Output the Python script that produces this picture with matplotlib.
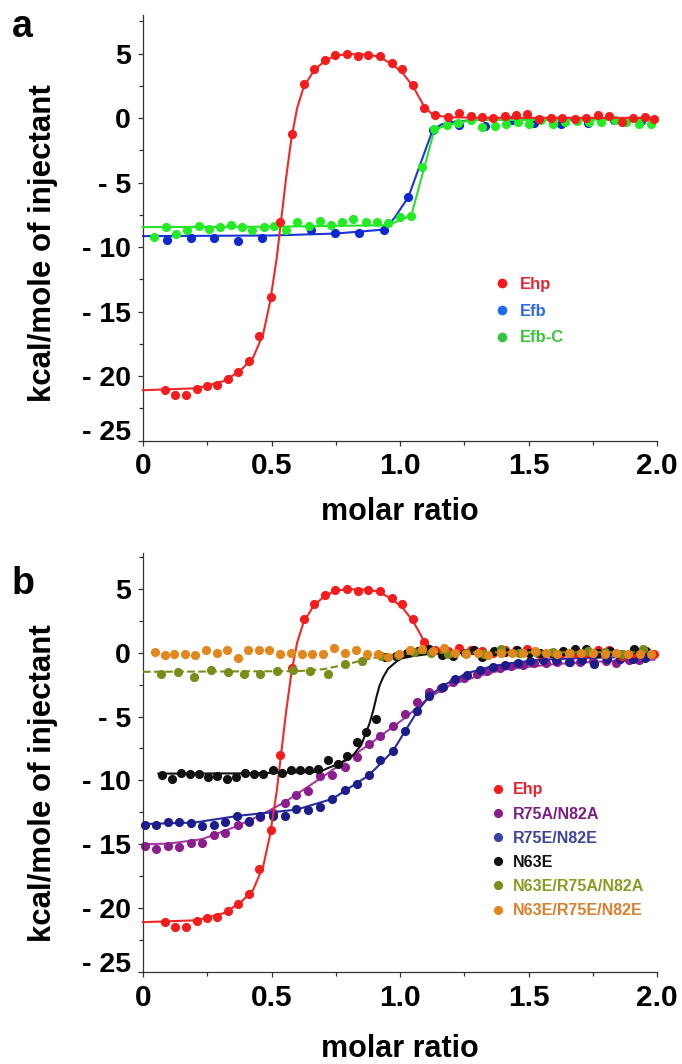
import matplotlib
matplotlib.use('Agg')
import matplotlib.pyplot as plt
from matplotlib.lines import Line2D

plt.rcParams['font.family'] = ['Liberation Sans', 'DejaVu Sans']
plt.rcParams['font.weight'] = 'bold'

# ---------------- data ----------------
EHP_X = [0.086, 0.125, 0.167, 0.209, 0.248, 0.289, 0.329, 0.371, 0.412, 0.453, 0.498, 0.534,
         0.578, 0.625, 0.665, 0.708, 0.749, 0.792, 0.835, 0.877, 0.922, 0.967, 1.009, 1.051,
         1.094, 1.138, 1.185, 1.230, 1.275, 1.318, 1.362, 1.409, 1.453, 1.496, 1.542, 1.587,
         1.631, 1.679, 1.725, 1.770, 1.815, 1.862, 1.908, 1.954, 1.990]
EHP_Y = [-21.05, -21.45, -21.45, -21.0, -20.74, -20.71, -20.2, -19.66, -18.87, -16.9, -13.87, -8.05,
         -1.2, 2.67, 3.84, 4.53, 4.87, 4.95, 4.82, 4.9, 4.82, 4.28, 3.84, 2.6,
         0.81, 0.22, 0.09, 0.37, 0.19, 0.09, 0.01, 0.17, 0.24, 0.3, -0.09, 0.01,
         -0.01, -0.04, -0.01, 0.24, 0.17, -0.27, 0.01, 0.09, -0.1]
EHP_FIT_X = [0, 0.209, 0.313, 0.378, 0.429, 0.468, 0.494, 0.520, 0.537, 0.557, 0.578, 0.600,
             0.625, 0.665, 0.708, 0.750, 0.800, 0.877, 0.920, 0.967, 1.009, 1.051, 1.072, 1.094,
             1.120, 1.150, 1.200, 1.300, 1.990]
EHP_FIT_Y = [-21.1, -20.95, -20.4, -19.6, -18.55, -16.7, -14.3, -10.9, -8.0, -4.6, -1.5, 0.8,
             2.4, 3.7, 4.45, 4.85, 4.97, 4.93, 4.75, 4.2, 3.55, 2.45, 1.7, 0.9,
             0.4, 0.18, 0.07, 0.03, 0.02]

EFB_X = [0.095, 0.187, 0.276, 0.370, 0.464, 0.652, 0.748, 0.842, 0.937, 1.033, 1.127, 1.228,
         1.332, 1.435, 1.523, 1.626, 1.730, 1.831, 1.938]
EFB_Y = [-9.43, -9.31, -9.31, -9.49, -9.28, -8.71, -8.9, -8.87, -8.66, -6.11, -0.94, -0.56,
         -0.63, -0.17, -0.37, -0.43, -0.37, -0.17, -0.2]
EFB_FIT_X = [0, 0.5, 0.75, 0.939, 0.98, 1.033, 1.08, 1.127, 1.16, 1.2, 1.3, 1.99]
EFB_FIT_Y = [-9.15, -9.1, -8.95, -8.64, -7.7, -6.1, -3.5, -0.94, -0.5, -0.3, -0.12, -0.05]

EFBC_X = [0.042, 0.089, 0.129, 0.173, 0.216, 0.256, 0.299, 0.341, 0.384, 0.426,
          0.471, 0.511, 0.558, 0.601, 0.645, 0.688, 0.732, 0.776, 0.819, 0.866,
          0.910, 0.953, 1.000, 1.044, 1.087, 1.134, 1.181, 1.227, 1.275, 1.321,
          1.368, 1.411, 1.459, 1.502, 1.549, 1.596, 1.643, 1.690, 1.737, 1.784,
          1.835, 1.880, 1.929, 1.978]
EFBC_Y = [-9.23, -8.41, -8.97, -8.66, -8.33, -8.59, -8.46, -8.25, -8.41, -8.66,
          -8.41, -8.33, -8.71, -8.02, -8.33, -7.94, -8.25, -8.02, -7.81, -8.07,
          -8.02, -8.15, -7.69, -7.56, -3.79, -0.81, -0.56, -0.35, -0.17, -0.68,
          -0.63, -0.43, -0.3, -0.43, -0.12, -0.48, -0.3, -0.25, -0.3, -0.3,
          -0.17, -0.3, -0.43, -0.43]
EFBC_FIT_X = [0, 0.5, 0.953, 1.044, 1.134, 1.181, 1.275, 1.99]
EFBC_FIT_Y = [-8.45, -8.42, -8.3, -7.55, -0.9, -0.55, -0.15, -0.1]

PUR_X = [0.008, 0.051, 0.096, 0.140, 0.186, 0.231, 0.276, 0.321, 0.368, 0.412, 0.457, 0.504,
         0.552, 0.597, 0.642, 0.690, 0.737, 0.785, 0.832, 0.879, 0.923, 0.972, 1.020, 1.067,
         1.114, 1.160, 1.205, 1.250, 1.300, 1.340, 1.390, 1.430, 1.480, 1.520, 1.570, 1.610,
         1.660, 1.700, 1.750, 1.800, 1.840, 1.890, 1.930]
PUR_Y = [-15.13, -15.39, -15.13, -15.18, -14.87, -14.87, -14.29, -14.08, -13.47, -13.29, -12.85, -12.55,
         -11.76, -11.18, -10.84, -9.66, -9.61, -8.95, -8.16, -7.18, -6.5, -5.71, -4.82, -3.87,
         -3.08, -2.75, -2.3, -1.95, -1.65, -1.4, -1.2, -1.05, -0.95, -0.85, -0.8, -0.75,
         -0.7, -0.7, -0.65, -0.65, -0.8, -0.55, -0.6]
PUR_FIT_X = [0, 0.10, 0.23, 0.364, 0.46, 0.552, 0.69, 0.879, 1.02, 1.114, 1.20, 1.31, 1.40,
             1.505, 1.60, 1.70, 1.80, 1.895, 1.99]
PUR_FIT_Y = [-15.0, -14.95, -14.6, -13.6, -12.7, -11.7, -9.85, -7.2, -5.1, -3.5, -2.5, -1.8, -1.35,
             -1.1, -0.9, -0.78, -0.68, -0.6, -0.55]

NAV_X = [0.008, 0.051, 0.096, 0.140, 0.186, 0.231, 0.276, 0.321, 0.367, 0.412, 0.457, 0.504,
         0.552, 0.597, 0.642, 0.690, 0.737, 0.785, 0.832, 0.879, 0.923, 0.972, 1.020, 1.067,
         1.114, 1.166, 1.214, 1.262, 1.311, 1.361, 1.408, 1.458, 1.506, 1.557, 1.607, 1.659,
         1.707, 1.756, 1.804, 1.856, 1.905, 1.953]
NAV_Y = [-13.5, -13.5, -13.24, -13.24, -13.37, -13.55, -13.5, -13.29, -12.76, -13.16, -12.76, -12.82,
         -12.76, -12.24, -12.32, -12.11, -11.45, -10.74, -10.26, -9.55, -8.42, -7.71, -6.13, -4.55,
         -3.42, -2.7, -2.1, -1.72, -1.39, -1.12, -0.94, -0.81, -0.68, -0.6, -0.55, -0.73,
         -0.55, -0.86, -0.47, -0.47, -0.47, -0.42]
NAV_FIT_X = [0, 0.2, 0.377, 0.597, 0.737, 0.879, 0.972, 1.067, 1.114, 1.166, 1.262, 1.361,
             1.458, 1.557, 1.707, 1.856, 1.99]
NAV_FIT_Y = [-13.42, -13.3, -12.76, -12.29, -11.45, -9.6, -7.71, -4.6, -3.42, -2.6, -1.6, -1.05,
             -0.75, -0.55, -0.42, -0.36, -0.33]

BLK_X = [0.073, 0.112, 0.148, 0.183, 0.219, 0.254, 0.289, 0.325, 0.360, 0.397, 0.431, 0.468,
         0.504, 0.539, 0.575, 0.610, 0.646, 0.681, 0.720, 0.759, 0.794, 0.832, 0.869, 0.908,
         0.942, 0.986, 1.027, 1.071, 1.114, 1.165, 1.208, 1.252, 1.287, 1.321, 1.366, 1.409,
         1.456, 1.502, 1.543, 1.590, 1.634, 1.679, 1.723, 1.770, 1.817, 1.864, 1.911, 1.958]
BLK_Y = [-9.61, -9.87, -9.39, -9.47, -9.47, -9.74, -9.68, -9.92, -9.74, -9.39, -9.53, -9.47,
         -9.21, -9.39, -9.21, -9.21, -9.21, -9.13, -8.42, -8.68, -8.11, -7.03, -6.18, -5.18,
         -0.38, -0.25, 0.01, 0.14, 0.27, -0.19, -0.25, 0.01, 0.2, -0.38, 0.14, 0.06,
         0.19, 0.01, 0.01, 0.01, 0.14, 0.27, 0.27, 0.01, 0.14, -0.12, 0.27, 0.14]
BLK_FIT_X = [0.06, 0.40, 0.688, 0.720, 0.765, 0.817, 0.849, 0.869, 0.882, 0.895, 0.908, 0.920,
             0.935, 0.954, 0.986, 1.006, 1.047, 1.114, 1.200, 1.960]
BLK_FIT_Y = [-9.47, -9.45, -9.34, -9.03, -8.68, -8.03, -7.24, -6.2, -5.5, -4.6, -3.5, -2.6,
             -1.9, -1.25, -0.7, -0.45, -0.28, -0.1, -0.03, 0.0]

OLV_X = [0.071, 0.136, 0.200, 0.263, 0.330, 0.393, 0.457, 0.522, 0.585, 0.649, 0.719, 0.786,
         0.853, 0.926, 0.991, 1.056, 1.121, 1.188, 1.255, 1.326, 1.393, 1.462, 1.529, 1.596,
         1.663, 1.730, 1.797, 1.864, 1.947]
OLV_Y = [-1.66, -1.53, -1.92, -1.32, -1.53, -1.66, -1.66, -1.40, -1.32, -1.40, -1.66, -0.92,
         -0.66, -0.27, -0.22, 0.04, -0.01, -0.14, -0.01, -0.07, 0.30, -0.01, 0.04, 0.04,
         -0.01, 0.12, 0.04, -0.07, 0.25]
OLV_FIT_X = [0, 0.60, 0.70, 0.786, 0.853, 0.926, 1.0, 1.1, 1.3, 1.95]
OLV_FIT_Y = [-1.5, -1.45, -1.3, -0.95, -0.6, -0.3, -0.12, -0.03, 0.02, 0.03]

ORG_X = [0.045, 0.085, 0.122, 0.163, 0.203, 0.246, 0.286, 0.327, 0.370, 0.410, 0.451, 0.491,
         0.535, 0.575, 0.618, 0.658, 0.701, 0.743, 0.786, 0.828, 0.870, 0.913, 0.953, 0.996,
         1.037, 1.084, 1.127, 1.170, 1.214, 1.258, 1.302, 1.344, 1.393, 1.435, 1.478, 1.527,
         1.569, 1.612, 1.657, 1.704, 1.750, 1.797, 1.841, 1.888, 1.934, 1.978]
ORG_Y = [0.04, -0.22, -0.14, -0.07, -0.22, 0.17, -0.01, 0.17, -0.40, 0.17, 0.17, 0.17,
         -0.07, -0.01, -0.07, -0.14, -0.07, 0.33, -0.01, 0.17, -0.14, -0.14, -0.33, -0.14,
         0.17, 0.25, 0.12, 0.38, -0.01, -0.14, -0.01, -0.22, -0.01, -0.01, -0.01, 0.12,
         -0.01, -0.14, -0.01, -0.01, -0.01, -0.14, -0.01, -0.14, -0.14, -0.14]

LEGEND_A = ['Ehp', 'Efb', 'Efb-C']
LEGEND_B = ['Ehp', 'R75A/N82A', 'R75E/N82E', 'N63E', 'N63E/R75A/N82A', 'N63E/R75E/N82E']

XTICKS = [0, 0.5, 1.0, 1.5, 2.0]
XTICKLABELS = ['0', '0.5', '1.0', '1.5', '2.0']
XMINOR = [0.25, 0.75, 1.25, 1.75]
YTICKS = [5, 0, -5, -10, -15, -20, -25]
YTICKLABELS = ['5', '0', '- 5', '- 10', '- 15', '- 20', '- 25']
YMINOR = [7.5, 2.5, -2.5, -7.5, -12.5, -17.5, -22.5]

# ---------------- figure ----------------
fig = plt.figure(figsize=(6.82, 10.64), dpi=100)
axA = fig.add_axes([143 / 682, 1 - 440.5 / 1064, 514 / 682, 425.5 / 1064])
axB = fig.add_axes([143 / 682, 1 - 972 / 1064, 514 / 682, 419 / 1064])

MS = 6.6
LW = 1.5


def style(ax, ymin, ymax, ylab_y, xlab_y):
    ax.set_xlim(0, 2.0)
    ax.set_ylim(ymin, ymax)
    for s in ['top', 'right']:
        ax.spines[s].set_visible(False)
    for s in ['left', 'bottom']:
        ax.spines[s].set_linewidth(0.9)
        ax.spines[s].set_color('#333333')
    ax.set_xticks(XTICKS)
    ax.set_xticklabels(XTICKLABELS)
    ax.set_xticks(XMINOR, minor=True)
    ax.set_yticks(YTICKS)
    ax.set_yticklabels(YTICKLABELS)
    ax.set_yticks(YMINOR, minor=True)
    ax.tick_params(which='major', direction='out', length=3.6, width=0.9, color='#333333')
    ax.tick_params(which='minor', direction='out', length=2.8, width=0.9, color='#333333')
    ax.tick_params(axis='x', which='major', labelsize=21.5, pad=5)
    ax.tick_params(axis='y', which='major', labelsize=20.5, pad=5)
    for lab in ax.get_xticklabels() + ax.get_yticklabels():
        lab.set_fontweight('bold')
    for lab in ax.get_yticklabels():
        if lab.get_text() == '- 25':
            lab.set_verticalalignment('baseline')
    ax.set_xlabel('molar ratio', fontsize=22, fontweight='bold')
    ax.set_ylabel('kcal/mole of injectant', fontsize=22.5, fontweight='bold')
    ax.xaxis.set_label_coords(0.5, xlab_y)
    ax.yaxis.set_label_coords(-0.166, ylab_y)


def series(ax, x, y, fx, fy, dot, line, label, z, ls='-'):
    if fx is not None:
        ax.plot(fx, fy, color=line, lw=LW, ls=ls, zorder=z, clip_on=False)
    ax.plot(x, y, 'o', color=dot, ms=MS, mew=0, zorder=z + 0.5, clip_on=False, label=label)


# panel a
series(axA, EFB_X, EFB_Y, EFB_FIT_X, EFB_FIT_Y, '#1028d0', '#1c34d8', 'Efb', 2)
series(axA, EFBC_X, EFBC_Y, EFBC_FIT_X, EFBC_FIT_Y, '#22ec22', '#2ae02a', 'Efb-C', 3)
series(axA, EHP_X, EHP_Y, EHP_FIT_X, EHP_FIT_Y, '#f41c1c', '#f02828', 'Ehp', 4)
style(axA, -25.0, 8.0, 0.464, -0.133)

hA_cols = ['#f01818', '#1e6cf0', '#33c640']
tA_cols = ['#e0262e', '#2a6ae6', '#3cc43c']
hA = [Line2D([], [], ls='none', marker='o', ms=7.0, mew=0, color=c) for c in hA_cols]
legA = axA.legend(hA, LEGEND_A, loc='upper left', bbox_to_anchor=(0.688, 0.384), frameon=False,
                  borderpad=0, borderaxespad=0, handlelength=0.6, handletextpad=0.8,
                  labelspacing=0.7, prop={'size': 12, 'weight': 'bold'})
for t, c in zip(legA.get_texts(), tA_cols):
    t.set_color(c)

# panel b
series(axB, PUR_X, PUR_Y, PUR_FIT_X, PUR_FIT_Y, '#8a1e8c', '#a43aa8', 'R75A/N82A', 2)
series(axB, NAV_X, NAV_Y, NAV_FIT_X, NAV_FIT_Y, '#1c1c8a', '#2a2aa0', 'R75E/N82E', 3)
series(axB, EHP_X, EHP_Y, EHP_FIT_X, EHP_FIT_Y, '#f41c1c', '#f02828', 'Ehp', 4)
series(axB, BLK_X, BLK_Y, BLK_FIT_X, BLK_FIT_Y, '#111111', '#111111', 'N63E', 5)
series(axB, OLV_X, OLV_Y, OLV_FIT_X, OLV_FIT_Y, '#7a8c1a', '#7a8c1a', 'N63E/R75A/N82A', 6, ls='--')
series(axB, ORG_X, ORG_Y, None, None, '#e2861e', '#e2861e', 'N63E/R75E/N82E', 7)
style(axB, -25.0, 7.8, 0.451, -0.148)

hB_cols = ['#f41c1c', '#8a1e8c', '#3a40a0', '#111111', '#7a8c1a', '#e2861e']
tB_cols = ['#e8202a', '#7c2085', '#3e449c', '#111111', '#8a9a22', '#dc7f2c']
hB = [Line2D([], [], ls='none', marker='o', ms=6.6, mew=0, color=c) for c in hB_cols]
legB = axB.legend(hB, LEGEND_B, loc='upper left', bbox_to_anchor=(0.682, 0.4527), frameon=False,
                  borderpad=0, borderaxespad=0, handlelength=0.6, handletextpad=0.6,
                  labelspacing=0.575, prop={'size': 11.5, 'weight': 'bold'})
for t, c in zip(legB.get_texts(), tB_cols):
    t.set_color(c)

fig.text(12 / 682, 1 - 37 / 1064, 'a', fontsize=27, fontweight='bold', va='baseline', ha='left')
fig.text(12 / 682, 1 - 594 / 1064, 'b', fontsize=27, fontweight='bold', va='baseline', ha='left')

fig.savefig('out.png', dpi=100)
